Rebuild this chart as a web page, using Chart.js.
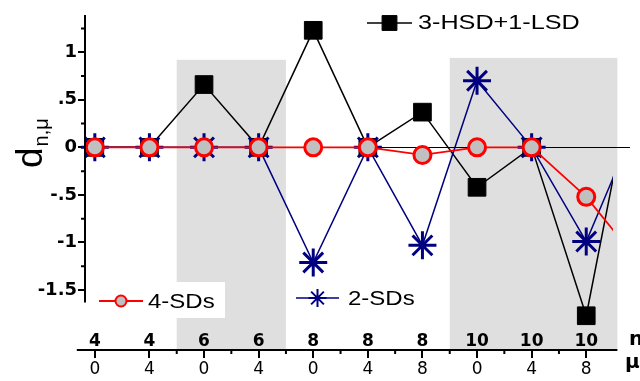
<!DOCTYPE html>
<html>
<head>
<meta charset="utf-8">
<script src="https://cdn.jsdelivr.net/npm/chart.js@4.4.1/dist/chart.umd.min.js"></script>
<style>
  html, body { margin: 0; padding: 0; background: #fff; }
  canvas { display: block; }
</style>
</head>
<body>
<canvas id="deviation-chart" width="640" height="381"></canvas>
<script>
const nLabels = ["4", "4", "6", "6", "8", "8", "8", "10", "10", "10"];
const muLabels = ["0", "4", "0", "4", "0", "4", "8", "0", "4", "8"];
const yTickValues = [-1.5, -1, -0.5, 0, 0.5, 1];
const yMinorValues = [-1.25, -0.75, -0.25, 0.25, 0.75, 1.25];
// the last value of each series sits past the right edge, only its line shows
const hsdValues = [0, 0, 0.66, 0, 1.23, 0, 0.37, -0.42, 0, -1.77, 1.16];
const sd2Values = [0, 0, 0, 0, -1.21, 0, -1.03, 0.7, 0, -0.99, 0.37];
const sd4Values = [0, 0, 0, 0, 0, 0, -0.08, 0, 0, -0.52, -1.23];
const bandStarts = [1.5, 6.5];
const bandEnds = [3.5, 9.57];
const bandTops = [0.92, 0.94];

const toPoints = (values) => values.map((v, i) => ({ x: i, y: v }));
const dataClip = { left: 20, top: 20, right: 0, bottom: 20 };

function stretchedText(ctx, text, x, y, font) {
  ctx.save();
  ctx.font = font;
  ctx.translate(x, y);
  ctx.scale(1.2, 1);
  ctx.fillText(text, 0, 0);
  ctx.restore();
}

function legendItem(ctx, ds, x1, x2, y, radius, borderWidth) {
  ctx.save();
  ctx.strokeStyle = ds.borderColor;
  ctx.lineWidth = ds.borderWidth;
  ctx.beginPath();
  ctx.moveTo(x1, y);
  ctx.lineTo(x2, y);
  ctx.stroke();
  ctx.fillStyle = ds.pointBackgroundColor;
  ctx.strokeStyle = ds.pointBorderColor;
  ctx.lineWidth = borderWidth;
  Chart.helpers.drawPoint(
    ctx,
    { pointStyle: ds.pointStyle, radius: radius, rotation: 0, borderWidth: borderWidth },
    (x1 + x2) / 2,
    y,
  );
  ctx.restore();
}

const decorPlugin = {
  id: "decor",
  beforeDatasetsDraw(chart) {
    const { ctx, chartArea, scales } = chart;
    const x = scales.x;
    const y = scales.y;
    ctx.save();
    ctx.fillStyle = "#dfdfdf";
    bandStarts.forEach((start, i) => {
      const left = x.getPixelForValue(start);
      const right = x.getPixelForValue(bandEnds[i]);
      const top = y.getPixelForValue(bandTops[i]);
      ctx.fillRect(left, top, right - left, chartArea.bottom - top);
    });
    const y0 = Math.round(y.getPixelForValue(0)) + 0.5;
    ctx.strokeStyle = "#000";
    ctx.lineWidth = 1;
    ctx.beginPath();
    ctx.moveTo(chartArea.left, y0);
    ctx.lineTo(x.getPixelForValue(9.8), y0);
    ctx.stroke();
    ctx.restore();
  },
  afterDraw(chart) {
    const { ctx, chartArea, scales } = chart;
    const x = scales.x;
    const y = scales.y;
    const ds = chart.data.datasets;
    ctx.save();
    ctx.strokeStyle = "#000";
    ctx.fillStyle = "#000";
    ctx.lineWidth = 2;

    // y axis line and minor ticks
    ctx.beginPath();
    ctx.moveTo(chartArea.left, chartArea.top - 2);
    ctx.lineTo(chartArea.left, y.getPixelForValue(-1.63));
    yMinorValues.forEach((v) => {
      const py = y.getPixelForValue(v);
      ctx.moveTo(chartArea.left, py);
      ctx.lineTo(chartArea.left - 4, py);
    });
    // x axis line and minor ticks
    const bottom = chartArea.bottom;
    ctx.moveTo(x.getPixelForValue(-0.33), bottom);
    ctx.lineTo(x.getPixelForValue(9.57), bottom);
    for (let i = 1; i < muLabels.length - 1; i++) {
      const px = x.getPixelForValue(i + 0.5);
      ctx.moveTo(px, bottom);
      ctx.lineTo(px, bottom + 4);
    }
    ctx.stroke();

    // n row above the axis
    ctx.font = "bold 17px 'DejaVu Sans'";
    ctx.textAlign = "center";
    ctx.textBaseline = "alphabetic";
    nLabels.forEach((label, i) => {
      ctx.fillText(label, x.getPixelForValue(i), bottom - 4);
    });
    ctx.textAlign = "left";
    ctx.font = "bold 20px 'DejaVu Sans'";
    ctx.fillText("n", 629, bottom - 5);
    ctx.fillText("\u03bc", 625, bottom + 18);

    // y title d_{n,mu}
    ctx.save();
    ctx.translate(42, 168);
    ctx.rotate(-Math.PI / 2);
    ctx.font = "37px 'Liberation Sans'";
    ctx.fillText("d", 0, 0);
    const dWidth = ctx.measureText("d").width;
    ctx.font = "20px 'Liberation Sans'";
    ctx.fillText("n,\u03bc", dWidth + 1, 6);
    ctx.restore();

    // legends
    const legendFont = "20px 'Liberation Sans'";
    legendItem(ctx, ds[2], 367, 412, 23, 10.5, 1);
    ctx.fillStyle = "#000";
    stretchedText(ctx, ds[2].label, 418, 29, "21px 'Liberation Sans'");

    ctx.fillStyle = "#fff";
    ctx.fillRect(88, 282, 137, 36);
    legendItem(ctx, ds[0], 99, 143, 301, 5.5, 2);
    ctx.fillStyle = "#000";
    stretchedText(ctx, ds[0].label, 148, 308, legendFont);

    legendItem(ctx, ds[1], 296, 339, 298, 9, 2);
    ctx.fillStyle = "#000";
    stretchedText(ctx, ds[1].label, 348, 305, legendFont);
    ctx.restore();
  },
};

const canvas = document.getElementById("deviation-chart");
new Chart(canvas.getContext("2d"), {
  type: "line",
  data: {
    datasets: [
      {
        label: "4-SDs",
        data: toPoints(sd4Values),
        borderColor: "#ff0000",
        borderWidth: 1.8,
        pointStyle: "circle",
        pointRadius: 8.5,
        pointBorderWidth: 3,
        pointBackgroundColor: "#c0c0c0",
        pointBorderColor: "#ff0000",
        order: 1,
        clip: dataClip,
      },
      {
        label: "2-SDs",
        data: toPoints(sd2Values),
        borderColor: "#000080",
        borderWidth: 1.5,
        pointStyle: "star",
        pointRadius: 14,
        pointBorderWidth: 3,
        pointBackgroundColor: "#000080",
        pointBorderColor: "#000080",
        order: 2,
        clip: dataClip,
      },
      {
        label: "3-HSD+1-LSD",
        data: toPoints(hsdValues),
        borderColor: "#000000",
        borderWidth: 1.5,
        pointStyle: "rect",
        pointRadius: 12.5,
        pointBorderWidth: 1,
        pointBackgroundColor: "#000000",
        pointBorderColor: "#000000",
        order: 3,
        clip: dataClip,
      },
    ],
  },
  options: {
    responsive: false,
    animation: false,
    devicePixelRatio: 1,
    layout: { padding: { left: 0, top: 2, right: 27, bottom: 0 } },
    plugins: {
      legend: { display: false },
      tooltip: { enabled: false },
    },
    elements: { line: { tension: 0 } },
    scales: {
      x: {
        type: "linear",
        min: -0.18,
        max: 9.49,
        afterBuildTicks: (scale) => {
          scale.ticks = muLabels.map((_, i) => ({ value: i }));
        },
        afterFit: (scale) => {
          scale.height = 31;
        },
        ticks: {
          callback: (value) => muLabels[value],
          color: "#000",
          font: { family: "'DejaVu Sans'", size: 17 },
          padding: 1,
          maxRotation: 0,
          autoSkip: false,
        },
        grid: {
          drawOnChartArea: false,
          tickLength: 8,
          color: "#000",
          lineWidth: 2,
        },
        border: { display: false },
      },
      y: {
        min: -2.13,
        max: 1.37,
        afterBuildTicks: (scale) => {
          scale.ticks = yTickValues.map((v) => ({ value: v }));
        },
        afterFit: (scale) => {
          scale.width = 85;
        },
        ticks: {
          callback: (value) => String(value).replace("0.", "."),
          color: "#000",
          font: { family: "'DejaVu Sans'", size: 18, weight: "bold" },
          padding: 1,
        },
        grid: {
          drawOnChartArea: false,
          tickLength: 7,
          color: "#000",
          lineWidth: 2,
        },
        border: { display: false },
      },
    },
  },
  plugins: [decorPlugin],
});
</script>
</body>
</html>
